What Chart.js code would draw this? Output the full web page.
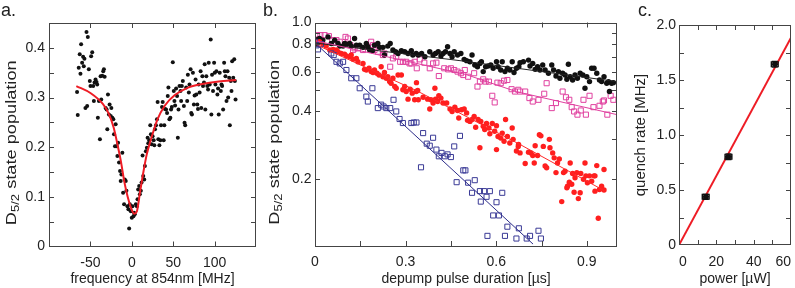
<!DOCTYPE html>
<html>
<head>
<meta charset="utf-8">
<script src="https://cdn.jsdelivr.net/npm/chart.js@4.4.0/dist/chart.umd.min.js"></script>
<style>
body{margin:0;background:#fff;width:795px;height:288px;overflow:hidden;position:relative;font-family:"Liberation Sans",Arial,sans-serif;}
canvas{position:absolute;top:0;}
.lbl{position:absolute;top:1px;font-size:18px;line-height:18px;color:#222;}
</style>
</head>
<body>
<canvas id="cA" width="270" height="288" style="left:0"></canvas>
<canvas id="cB" width="370" height="288" style="left:262px"></canvas>
<canvas id="cC" width="163" height="288" style="left:632px"></canvas>
<div class="lbl" style="left:1px">a.</div>
<div class="lbl" style="left:263px">b.</div>
<div class="lbl" style="left:638px">c.</div>
<script>
// ---- panel a: resonance scan ----
var pointsA = [[-66.1,0.311],[-65.3,0.265],[-64.1,0.36],[-62.9,0.387],[-62.0,0.348],[-61.2,0.407],[-60.0,0.37],[-58.8,0.382],[-58.0,0.363],[-57.2,0.378],[-56.0,0.279],[-54.7,0.432],[-53.9,0.283],[-53.1,0.422],[-51.9,0.357],[-50.7,0.333],[-49.9,0.323],[-49.1,0.383],[-47.8,0.391],[-46.6,0.323],[-45.8,0.293],[-45.0,0.33],[-43.8,0.336],[-42.6,0.331],[-41.8,0.326],[-41.0,0.259],[-39.7,0.293],[-38.5,0.216],[-37.7,0.343],[-36.9,0.296],[-35.7,0.344],[-34.5,0.353],[-33.7,0.357],[-32.8,0.342],[-31.6,0.279],[-30.4,0.276],[-29.6,0.236],[-28.8,0.306],[-27.6,0.266],[-26.8,0.286],[-25.5,0.263],[-24.7,0.279],[-23.5,0.259],[-22.3,0.256],[-21.5,0.226],[-20.3,0.202],[-19.5,0.246],[-18.2,0.202],[-17.4,0.182],[-16.6,0.209],[-15.4,0.169],[-14.2,0.152],[-13.4,0.132],[-12.6,0.145],[-11.4,0.189],[-10.5,0.108],[-9.3,0.085],[-8.5,0.135],[-7.3,0.132],[-6.5,0.112],[-5.3,0.081],[-4.1,0.075],[-3.2,0.036],[-2.4,0.085],[-1.2,0.071],[0,0.058],[0.8,0.081],[2.0,0.061],[2.8,0.068],[3.6,0.065],[4.9,0.085],[6.1,0.081],[6.9,0.095],[7.7,0.115],[8.9,0.122],[9.7,0.105],[10.9,0.112],[11.8,0.129],[13.0,0.183],[13.8,0.142],[15.0,0.135],[15.8,0.162],[17.0,0.192],[18.2,0.199],[19.1,0.219],[19.9,0.208],[21.1,0.214],[22.3,0.244],[23.1,0.226],[23.9,0.206],[25.1,0.222],[26.4,0.214],[27.2,0.204],[28.0,0.236],[29.2,0.244],[30.4,0.256],[31.2,0.291],[32.0,0.216],[33.3,0.204],[34.5,0.214],[35.3,0.244],[36.5,0.281],[37.3,0.291],[38.5,0.214],[39.3,0.244],[40.1,0.277],[41.4,0.276],[42.6,0.269],[43.4,0.303],[44.2,0.32],[45.4,0.256],[46.6,0.259],[47.4,0.276],[48.3,0.281],[49.5,0.371],[50.7,0.313],[51.5,0.293],[52.3,0.284],[53.5,0.318],[54.7,0.303],[55.6,0.219],[56.4,0.276],[57.6,0.323],[58.8,0.313],[59.6,0.293],[60.4,0.323],[61.6,0.333],[62.9,0.283],[63.7,0.249],[64.5,0.244],[65.7,0.32],[66.9,0.293],[67.7,0.346],[68.9,0.31],[69.7,0.326],[71.0,0.357],[71.8,0.269],[72.6,0.266],[73.8,0.35],[75.0,0.286],[75.8,0.304],[77.0,0.336],[77.9,0.306],[79.1,0.286],[79.9,0.277],[80.7,0.326],[81.9,0.31],[83.1,0.353],[83.9,0.279],[85.2,0.343],[86.0,0.323],[87.2,0.33],[88.0,0.367],[88.8,0.276],[90.0,0.343],[91.2,0.323],[92.1,0.316],[92.9,0.37],[94.1,0.326],[95.3,0.417],[96.1,0.266],[96.9,0.346],[98.1,0.313],[99.4,0.37],[100.2,0.35],[101.0,0.326],[102.2,0.353],[103.4,0.306],[104.2,0.318],[105.0,0.266],[106.2,0.35],[107.5,0.313],[108.3,0.326],[109.1,0.323],[110.3,0.276],[111.5,0.37],[112.3,0.353],[113.1,0.343],[114.4,0.293],[115.6,0.353],[116.4,0.30],[117.6,0.34],[118.4,0.244],[119.6,0.333],[120.4,0.313],[121.2,0.373],[122.5,0.34],[123.7,0.377],[124.5,0.333],[125.3,0.296]];
var fitA = [[-67,0.323],[-50,0.309],[-35,0.287],[-28,0.268],[-22,0.24],[-17,0.203],[-13,0.17],[-9,0.13],[-5,0.1],[-1,0.078],[3,0.066],[6,0.07],[10,0.11],[14,0.15],[18,0.185],[23,0.215],[31,0.256],[40,0.284],[52,0.305],[68,0.32],[85,0.327],[105,0.332],[126,0.335]];
var xTicksA = [-100,-50,0,50,100,150];
var xLabelsA = ['','-50','0','50','100',''];
var yTicksA = [0,0.05,0.1,0.15,0.2,0.25,0.3,0.35,0.4,0.45];
var yLabelsA = ['0','','0.1','','0.2','','0.3','','0.4',''];

// ---- panel b: decay curves (log axis) ----
var blackB = [[0.0,0.82],[0.005,0.80],[0.01,0.84],[0.015,0.848],[0.026,0.834],[0.043,0.862],[0.054,0.806],[0.065,0.834],[0.076,0.806],[0.082,0.784],[0.093,0.784],[0.098,0.806],[0.104,0.80],[0.115,0.806],[0.12,0.784],[0.131,0.848],[0.137,0.792],[0.148,0.792],[0.159,0.774],[0.17,0.806],[0.175,0.779],[0.181,0.753],[0.19,0.747],[0.197,0.792],[0.208,0.806],[0.214,0.774],[0.225,0.774],[0.23,0.715],[0.241,0.784],[0.249,0.806],[0.258,0.753],[0.267,0.74],[0.275,0.727],[0.286,0.747],[0.297,0.74],[0.308,0.727],[0.319,0.747],[0.324,0.715],[0.335,0.727],[0.342,0.715],[0.353,0.727],[0.364,0.703],[0.38,0.74],[0.391,0.715],[0.399,0.727],[0.408,0.74],[0.417,0.708],[0.424,0.727],[0.432,0.74],[0.439,0.779],[0.447,0.727],[0.454,0.703],[0.461,0.74],[0.472,0.715],[0.483,0.727],[0.494,0.684],[0.502,0.675],[0.513,0.667],[0.52,0.715],[0.529,0.645],[0.538,0.634],[0.546,0.656],[0.551,0.667],[0.557,0.603],[0.565,0.634],[0.573,0.639],[0.582,0.645],[0.59,0.624],[0.601,0.667],[0.606,0.634],[0.615,0.613],[0.62,0.667],[0.629,0.603],[0.637,0.624],[0.645,0.613],[0.653,0.667],[0.659,0.597],[0.667,0.624],[0.675,0.634],[0.679,0.661],[0.69,0.667],[0.707,0.679],[0.712,0.639],[0.721,0.656],[0.729,0.617],[0.737,0.634],[0.745,0.613],[0.754,0.645],[0.762,0.613],[0.773,0.593],[0.784,0.645],[0.79,0.613],[0.798,0.576],[0.806,0.603],[0.811,0.563],[0.82,0.593],[0.828,0.582],[0.834,0.557],[0.839,0.65],[0.845,0.572],[0.853,0.553],[0.861,0.582],[0.869,0.563],[0.878,0.593],[0.887,0.582],[0.894,0.508],[0.9,0.572],[0.909,0.544],[0.916,0.624],[0.924,0.624],[0.933,0.593],[0.942,0.553],[0.949,0.544],[0.957,0.572],[0.966,0.535],[0.972,0.544],[0.975,0.491],[0.982,0.535],[0.988,0.538]];
var pinkB = [[0.0,0.84],[0.007,0.878],[0.018,0.878],[0.032,0.878],[0.046,0.869],[0.057,0.834],[0.071,0.834],[0.082,0.82],[0.101,0.862],[0.109,0.848],[0.117,0.792],[0.126,0.753],[0.131,0.766],[0.142,0.766],[0.159,0.753],[0.175,0.779],[0.186,0.82],[0.192,0.792],[0.197,0.753],[0.208,0.74],[0.225,0.715],[0.23,0.727],[0.249,0.634],[0.258,0.691],[0.269,0.703],[0.282,0.667],[0.291,0.667],[0.302,0.667],[0.313,0.656],[0.319,0.656],[0.33,0.667],[0.337,0.624],[0.347,0.684],[0.362,0.661],[0.38,0.624],[0.391,0.656],[0.402,0.661],[0.41,0.576],[0.428,0.624],[0.441,0.617],[0.45,0.624],[0.461,0.613],[0.472,0.603],[0.483,0.593],[0.491,0.582],[0.496,0.613],[0.507,0.572],[0.527,0.593],[0.538,0.517],[0.546,0.544],[0.557,0.557],[0.565,0.544],[0.576,0.544],[0.587,0.47],[0.595,0.439],[0.604,0.538],[0.615,0.535],[0.626,0.549],[0.637,0.553],[0.651,0.503],[0.662,0.491],[0.673,0.50],[0.679,0.491],[0.696,0.491],[0.71,0.459],[0.721,0.443],[0.74,0.451],[0.759,0.48],[0.767,0.535],[0.784,0.414],[0.798,0.436],[0.82,0.491],[0.831,0.463],[0.842,0.451],[0.85,0.418],[0.858,0.40],[0.869,0.387],[0.88,0.404],[0.889,0.451],[0.897,0.387],[0.909,0.47],[0.922,0.418],[0.942,0.424],[0.953,0.443],[0.957,0.448],[0.968,0.387],[0.979,0.47],[0.988,0.451]];
var redB = [[0.005,0.82],[0.015,0.82],[0.026,0.80],[0.037,0.784],[0.049,0.753],[0.06,0.758],[0.071,0.753],[0.076,0.74],[0.087,0.727],[0.098,0.722],[0.104,0.708],[0.115,0.703],[0.12,0.715],[0.126,0.684],[0.137,0.691],[0.142,0.667],[0.159,0.656],[0.164,0.617],[0.17,0.613],[0.179,0.624],[0.186,0.603],[0.192,0.597],[0.197,0.613],[0.205,0.593],[0.212,0.582],[0.219,0.634],[0.225,0.572],[0.23,0.597],[0.236,0.563],[0.241,0.572],[0.247,0.544],[0.252,0.535],[0.258,0.563],[0.264,0.517],[0.269,0.508],[0.275,0.582],[0.286,0.582],[0.291,0.50],[0.297,0.517],[0.302,0.491],[0.308,0.454],[0.315,0.503],[0.322,0.483],[0.33,0.451],[0.335,0.491],[0.336,0.538],[0.34,0.496],[0.342,0.451],[0.358,0.463],[0.373,0.454],[0.38,0.41],[0.384,0.451],[0.391,0.436],[0.397,0.508],[0.399,0.454],[0.406,0.443],[0.41,0.47],[0.417,0.459],[0.424,0.436],[0.436,0.436],[0.447,0.41],[0.454,0.40],[0.463,0.418],[0.472,0.404],[0.476,0.374],[0.485,0.407],[0.494,0.41],[0.502,0.394],[0.505,0.365],[0.513,0.361],[0.52,0.368],[0.527,0.38],[0.532,0.34],[0.54,0.368],[0.546,0.275],[0.549,0.361],[0.557,0.343],[0.562,0.332],[0.568,0.353],[0.576,0.337],[0.579,0.318],[0.587,0.353],[0.595,0.326],[0.601,0.345],[0.601,0.27],[0.606,0.309],[0.615,0.304],[0.62,0.32],[0.626,0.294],[0.631,0.368],[0.637,0.309],[0.645,0.289],[0.653,0.337],[0.656,0.30],[0.667,0.266],[0.673,0.279],[0.674,0.285],[0.679,0.261],[0.696,0.234],[0.707,0.263],[0.715,0.261],[0.721,0.254],[0.726,0.235],[0.729,0.281],[0.737,0.254],[0.743,0.315],[0.748,0.311],[0.756,0.279],[0.762,0.228],[0.767,0.224],[0.776,0.30],[0.778,0.275],[0.787,0.261],[0.792,0.248],[0.798,0.213],[0.803,0.235],[0.809,0.245],[0.817,0.158],[0.823,0.213],[0.828,0.216],[0.834,0.182],[0.836,0.185],[0.842,0.193],[0.845,0.235],[0.85,0.189],[0.853,0.211],[0.858,0.174],[0.861,0.202],[0.867,0.213],[0.872,0.163],[0.878,0.173],[0.88,0.211],[0.889,0.199],[0.894,0.235],[0.897,0.206],[0.902,0.192],[0.909,0.206],[0.916,0.195],[0.924,0.206],[0.927,0.176],[0.927,0.206],[0.933,0.229],[0.938,0.133],[0.942,0.179],[0.949,0.185],[0.957,0.178],[0.957,0.22]];
var blueB = [[0.0,0.82],[0.005,0.79],[0.01,0.758],[0.02,0.80],[0.054,0.727],[0.062,0.715],[0.071,0.667],[0.082,0.656],[0.093,0.667],[0.104,0.613],[0.12,0.563],[0.137,0.563],[0.148,0.508],[0.17,0.466],[0.175,0.443],[0.19,0.508],[0.208,0.414],[0.219,0.429],[0.227,0.421],[0.236,0.414],[0.249,0.414],[0.26,0.451],[0.269,0.40],[0.28,0.37],[0.291,0.355],[0.319,0.355],[0.327,0.357],[0.336,0.357],[0.351,0.225],[0.358,0.32],[0.37,0.287],[0.38,0.281],[0.391,0.305],[0.402,0.27],[0.41,0.252],[0.419,0.261],[0.43,0.252],[0.439,0.257],[0.45,0.25],[0.461,0.279],[0.469,0.193],[0.48,0.311],[0.491,0.218],[0.498,0.218],[0.507,0.192],[0.52,0.173],[0.529,0.197],[0.546,0.176],[0.549,0.158],[0.56,0.176],[0.568,0.166],[0.571,0.111],[0.579,0.176],[0.59,0.137],[0.601,0.157],[0.609,0.137],[0.62,0.173],[0.629,0.111],[0.637,0.122],[0.667,0.108],[0.675,0.12],[0.701,0.108],[0.712,0.111],[0.74,0.117],[0.748,0.108]];
var blackFitB = [[0,0.81],[0.48,0.675],[1.0,0.544]];
var pinkFitB = [[0,0.83],[0.5,0.585],[0.668,0.49],[1.0,0.387]];
var redFitB = [[0,0.80],[0.337,0.495],[0.678,0.285],[0.957,0.177]];
var blueFitB = [[0,0.81],[0.722,0.102]];
var xTicksB = [0,0.15,0.3,0.45,0.6,0.75,0.9,1.0];
var xLabelsB = ['0','','0.3','','0.6','','0.9',''];
var yTicksB = [0.1,0.2,0.3,0.4,0.5,0.6,0.7,0.8,0.9,1.0];
var yLabelsB = ['','0.2','','0.4','','0.6','','0.8','','1.0'];

// ---- panel c: quench rate vs power ----
var powerC = [14.3, 26.5, 51.3];
var rateC = [0.439, 0.803, 1.643];
var powerErrC = [1.8, 1.8, 1.8];
var rateErrC = [0.022, 0.025, 0.025];
var fitC = [[0,0],[60,1.885]];
var xTicksC = [0,10,20,30,40,50,60];
var xLabelsC = ['0','','20','','40','','60'];
var yTicksC = [0,0.25,0.5,0.75,1.0,1.25,1.5,1.75,2.0];
var yLabelsC = ['0','','0.5','','1.0','','1.5','','2.0'];

var FONT = '"Liberation Sans", Arial, sans-serif';
Chart.defaults.font.family = FONT;
Chart.defaults.font.size = 14;
Chart.defaults.color = '#222';

function toXY(arr){
	return arr.map(function(p){ return {x:p[0], y:p[1]}; });
}

// frame round the plot and short inward ticks on all four sides
var framePlugin = {
	id: 'frame',
	afterDatasetsDraw: function(chart){
		var ctx = chart.ctx, a = chart.chartArea;
		var xs = chart.scales.x, ys = chart.scales.y;
		ctx.save();
		ctx.strokeStyle = '#444';
		ctx.lineWidth = 1;
		ctx.strokeRect(Math.round(a.left)+0.5, Math.round(a.top)+0.5, Math.round(a.right-a.left)-1, Math.round(a.bottom-a.top)-1);
		ctx.beginPath();
		xs.ticks.forEach(function(t){
			if (t.value <= xs.min || t.value >= xs.max) return;
			var px = Math.round(xs.getPixelForValue(t.value))+0.5;
			ctx.moveTo(px, a.bottom); ctx.lineTo(px, a.bottom-5);
			ctx.moveTo(px, a.top); ctx.lineTo(px, a.top+5);
		});
		ys.ticks.forEach(function(t){
			if (t.value <= ys.min || t.value >= ys.max) return;
			var py = Math.round(ys.getPixelForValue(t.value))+0.5;
			ctx.moveTo(a.left, py); ctx.lineTo(a.left+5, py);
			ctx.moveTo(a.right, py); ctx.lineTo(a.right-5, py);
		});
		ctx.stroke();
		ctx.restore();
	}
};

// rotated y title with the 5/2 subscript, stretched along the text like the original
function subTitlePlugin(cx){
	return {
		id: 'subTitle',
		afterDraw: function(chart){
			var ctx = chart.ctx, a = chart.chartArea;
			var cy = (a.top + a.bottom) / 2 + 8;
			var big = '14px ' + FONT, small = '10px ' + FONT;
			ctx.save();
			ctx.translate(cx, cy);
			ctx.rotate(-Math.PI / 2);
			ctx.scale(1.3, 1);
			ctx.fillStyle = '#222';
			ctx.textBaseline = 'alphabetic';
			ctx.font = big;
			var w1 = ctx.measureText('D').width;
			var w3 = ctx.measureText(' state population').width;
			ctx.font = small;
			var w2 = ctx.measureText('5/2').width;
			var x0 = -(w1 + w2 + w3) / 2;
			ctx.font = big; ctx.fillText('D', x0, 5);
			ctx.font = small; ctx.fillText('5/2', x0 + w1, 8);
			ctx.font = big; ctx.fillText(' state population', x0 + w1 + w2, 5);
			ctx.restore();
		}
	};
}

var errorBarPlugin = {
	id: 'errbars',
	afterDatasetsDraw: function(chart){
		var xs = chart.scales.x, ys = chart.scales.y, ctx = chart.ctx;
		ctx.save();
		ctx.strokeStyle = '#111';
		ctx.lineWidth = 1.5;
		for (var i = 0; i < powerC.length; i++){
			var px = xs.getPixelForValue(powerC[i]), py = ys.getPixelForValue(rateC[i]);
			var x0 = xs.getPixelForValue(powerC[i] - powerErrC[i]), x1 = xs.getPixelForValue(powerC[i] + powerErrC[i]);
			var y0 = ys.getPixelForValue(rateC[i] - rateErrC[i]), y1 = ys.getPixelForValue(rateC[i] + rateErrC[i]);
			ctx.beginPath();
			ctx.moveTo(x0, py); ctx.lineTo(x1, py);
			ctx.moveTo(x0, py-3); ctx.lineTo(x0, py+3);
			ctx.moveTo(x1, py-3); ctx.lineTo(x1, py+3);
			ctx.moveTo(px, y0); ctx.lineTo(px, y1);
			ctx.moveTo(px-3, y0); ctx.lineTo(px+3, y0);
			ctx.moveTo(px-3, y1); ctx.lineTo(px+3, y1);
			ctx.stroke();
		}
		ctx.restore();
	}
};

function axisX(opt){
	return {
		type: 'linear', min: opt.min, max: opt.max,
		afterBuildTicks: function(s){ s.ticks = opt.ticks.map(function(v){ return {value:v}; }); },
		afterFit: function(s){ s.height = opt.height; s.paddingLeft = 0; s.paddingRight = 0; },
		grid: {display:false, drawTicks:false},
		border: {display:false},
		ticks: {autoSkip:false, maxRotation:0, padding:opt.pad, align:opt.align || 'center', callback: function(v, i){ return opt.labels[i]; }},
		title: {display:true, text:opt.title, padding:{top:0, bottom:0}}
	};
}
function axisY(opt){
	return {
		type: opt.type || 'linear', min: opt.min, max: opt.max,
		afterBuildTicks: function(s){ s.ticks = opt.ticks.map(function(v){ return {value:v}; }); },
		afterFit: function(s){ s.width = opt.width; s.paddingTop = 0; s.paddingBottom = 0; },
		grid: {display:false, drawTicks:false},
		border: {display:false},
		ticks: {autoSkip:false, padding:opt.pad, callback: function(v, i){ return opt.labels[i]; }},
		title: {display:!!opt.title, text:opt.title || '', font:{size:15}, padding:{top:0, bottom:0}}
	};
}
var baseOpts = {
	responsive: false,
	animation: false,
	events: [],
	plugins: {legend:{display:false}, tooltip:{enabled:false}}
};

// panel a
new Chart(document.getElementById('cA'), {
	type: 'scatter',
	data: {datasets: [
		{data: toXY(fitA), showLine:true, pointRadius:0, borderColor:'#ee1c25', borderWidth:2, cubicInterpolationMode:'monotone'},
		{data: toXY(pointsA), pointRadius:2, pointBorderWidth:0, backgroundColor:'#111', borderColor:'#111'}
	]},
	options: Object.assign({}, baseOpts, {
		layout: {padding:{left:0, top:23, right:14, bottom:0}},
		scales: {
			x: axisX({min:-100, max:150, ticks:xTicksA, labels:xLabelsA, height:41.5, pad:8, title:'frequency at 854nm [MHz]'}),
			y: axisY({min:0, max:0.45, ticks:yTicksA, labels:yLabelsA, width:49, pad:4})
		}
	}),
	plugins: [framePlugin, subTitlePlugin(11)]
});

// panel b
new Chart(document.getElementById('cB'), {
	type: 'scatter',
	data: {datasets: [
		{data: toXY(blueFitB), showLine:true, pointRadius:0, borderColor:'#2d2d8a', borderWidth:1},
		{data: toXY(redFitB), showLine:true, pointRadius:0, borderColor:'#ff2a2a', borderWidth:1},
		{data: toXY(pinkFitB), showLine:true, pointRadius:0, borderColor:'#e0409f', borderWidth:1},
		{data: toXY(blackFitB), showLine:true, pointRadius:0, borderColor:'#222', borderWidth:1},
		{data: toXY(blueB), pointStyle:'rect', pointRadius:3.6, pointBorderWidth:1, backgroundColor:'rgba(0,0,0,0)', borderColor:'#3a3a96'},
		{data: toXY(redB), pointRadius:2.7, pointBorderWidth:0, backgroundColor:'#ff1f1f', borderColor:'#ff1f1f'},
		{data: toXY(blackB), pointRadius:2.7, pointBorderWidth:0, backgroundColor:'#111', borderColor:'#111'},
		{data: toXY(pinkB), pointStyle:'rect', pointRadius:3.6, pointBorderWidth:1, backgroundColor:'rgba(0,0,0,0)', borderColor:'#e0409f'}
	]},
	options: Object.assign({}, baseOpts, {
		layout: {padding:{left:0, top:22.5, right:15, bottom:0}},
		scales: {
			x: axisX({min:0, max:1.0, ticks:xTicksB, labels:xLabelsB, height:42, pad:8, title:'depump pulse duration [\u00b5s]'}),
			y: axisY({type:'logarithmic', min:0.1, max:1.0, ticks:yTicksB, labels:yLabelsB, width:53, pad:3.5})
		}
	}),
	plugins: [framePlugin, subTitlePlugin(11.5)]
});

// panel c
new Chart(document.getElementById('cC'), {
	type: 'scatter',
	data: {datasets: [
		{data: powerC.map(function(p, i){ return {x:p, y:rateC[i]}; }), pointStyle:'rect', pointRadius:3.5, pointBorderWidth:0, backgroundColor:'#111', borderColor:'#111'},
		{data: toXY(fitC), showLine:true, pointRadius:0, borderColor:'#ee1c25', borderWidth:2}
	]},
	options: Object.assign({}, baseOpts, {
		layout: {padding:{left:0, top:25, right:1.7, bottom:0}},
		scales: {
			x: axisX({min:0, max:60, ticks:xTicksC, labels:xLabelsC, height:43, pad:9, align:'inner', title:'power [\u00b5W]'}),
			y: axisY({min:0, max:2.0, ticks:yTicksC, labels:yLabelsC, width:47, pad:3, title:'quench rate [MHz]'})
		}
	}),
	plugins: [framePlugin, errorBarPlugin]
});
</script>
</body>
</html>
